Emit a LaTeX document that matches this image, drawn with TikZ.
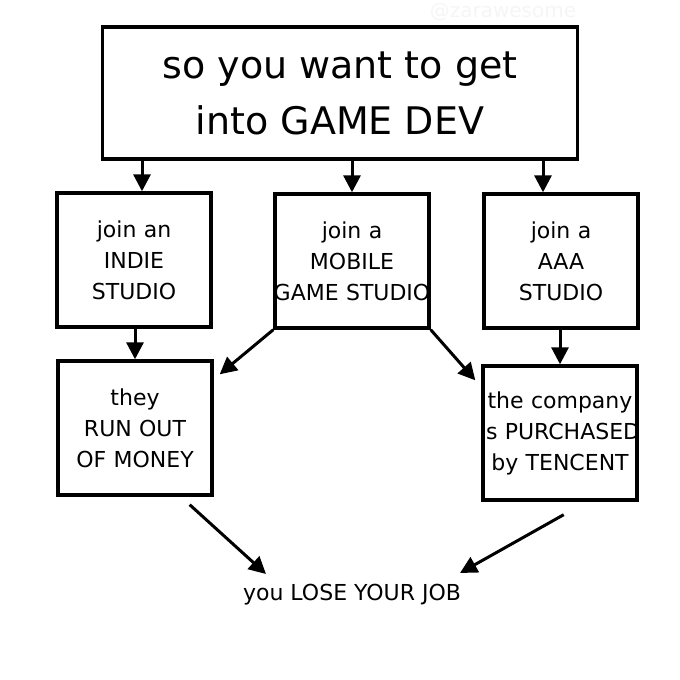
\documentclass[tikz,border=0pt]{standalone}
\usepackage{fontspec}
\setmainfont{DejaVu Sans}
\usetikzlibrary{arrows.meta}

\newcommand{\wideline}[1]{\makebox[\linewidth]{#1}}

\tikzset{
  stepbox/.style={draw, line width=3.4pt, minimum width=154pt, minimum height=134pt,
    text width=150pt, inner sep=2pt, align=center, font=\fontsize{22}{31}\selectfont},
  flow/.style={-{Triangle[length=17pt,width=17pt]}, line width=3pt}
}

\begin{document}
\begin{tikzpicture}[x=1pt,y=-1pt]
\useasboundingbox (0,0) rectangle (680,680);
\node[text=black!4, font=\fontsize{20}{24}\selectfont] (mark) at (503,12) {@zarawesome};
\node[draw, line width=3.4pt, minimum width=475pt, minimum height=132pt, align=center,
  font=\fontsize{38}{56}\selectfont] (start) at (340,93) {so you want to get\\into GAME DEV};
\node[stepbox] (indie) at (134,260) {join an\\INDIE\\STUDIO};
\node[stepbox] (mobile) at (352,261) {join a\\MOBILE\\\wideline{GAME STUDIO}};
\node[stepbox] (aaa) at (561,261) {join a\\AAA\\STUDIO};
\node[stepbox] (money) at (135,428) {they\\RUN OUT\\OF MONEY};
\node[stepbox] (tencent) at (560,433) {the company\\\wideline{is PURCHASED}\\by TENCENT};
\node[font=\fontsize{22}{31}\selectfont] (job) at (352,595) {you LOSE YOUR JOB};

\draw[flow] (start.south -| 142,0) -- (indie.north -| 142,0);
\draw[flow] (start.south -| mobile) -- (mobile.north);
\draw[flow] (start.south -| 543,0) -- (aaa.north -| 543,0);
\draw[flow] (indie.south -| money) -- (money.north);
\draw[flow] (mobile.south west) -- ([shift={(6,15)}]money.north east);
\draw[flow] (mobile.south east) -- ([shift={(-6,16)}]tencent.north west);
\draw[flow] (aaa.south -| tencent) -- (tencent.north);
\draw[flow] ([shift={(-24,8)}]money.south east) -- ([shift={(-86,-21)}]job.center);
\draw[flow] ([shift={(-75,13)}]tencent.south east) -- ([shift={(108,-22)}]job.center);
\end{tikzpicture}
\end{document}
